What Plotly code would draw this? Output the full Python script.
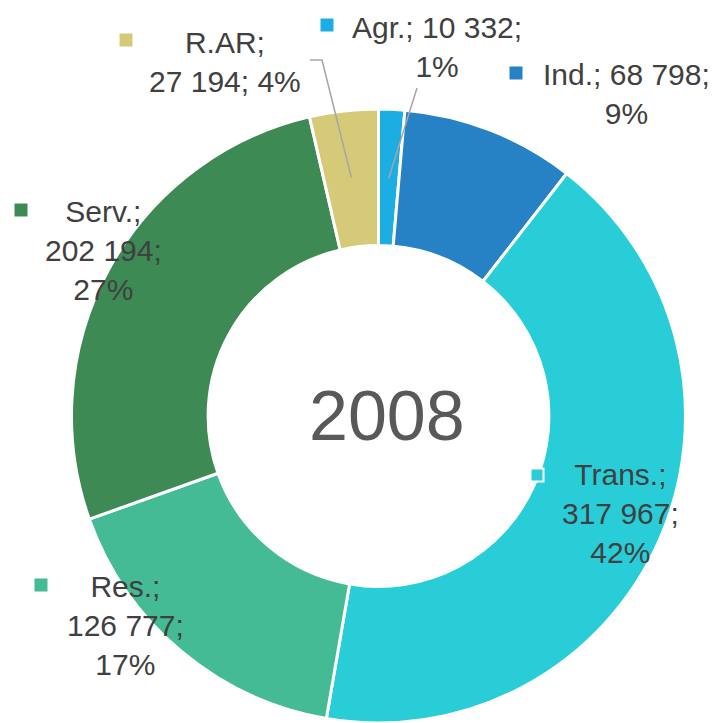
import math
import plotly.graph_objects as go

# ---- data ----
categories = ["Agr.", "Ind.", "Trans.", "Res.", "Serv.", "R.AR"]
values = [10332, 68798, 317967, 126777, 202194, 27194]
percents = ["1%", "9%", "42%", "17%", "27%", "4%"]
colors = ["#1CADE2", "#2782C5", "#29CDD8", "#44BA95", "#3E8A54", "#D5CA77"]
center_label = "2008"

W, H = 717, 723
OFF = 8.0  # page body margin offset compensation
CX, CY, R = 378.5, 416.0, 307.0


def px(x):
    return (x - OFF) / W


def py(y):
    return 1 - (y - OFF) / H


def fmt(v):
    return f"{v:,}".replace(",", " ")


fig = go.Figure()
fig.add_trace(go.Pie(
    labels=categories,
    values=values,
    marker=dict(colors=colors, line=dict(color="white", width=3)),
    hole=0.555,
    sort=False,
    direction="clockwise",
    rotation=0,
    textinfo="none",
    hoverinfo="label+value+percent",
    domain=dict(x=[px(CX - R), px(CX + R)], y=[py(CY + R), py(CY - R)]),
    showlegend=False,
))

TXT = "#404040"
FONT = "Liberation Sans"
FS = 30

label_specs = {
    "R.AR": dict(lines=[f"{categories[5]};", f"{fmt(values[5])}; {percents[5]}"], cx=225, y0=43, sq=(126, 40)),
    "Agr.": dict(lines=[f"{categories[0]}; {fmt(values[0])};", percents[0]], cx=437, y0=28, sq=(327, 25)),
    "Ind.": dict(lines=[f"{categories[1]}; {fmt(values[1])};", percents[1]], cx=626, y0=75, sq=(516, 73)),
    "Serv.": dict(lines=[f"{categories[4]};", f"{fmt(values[4])};", percents[4]], cx=103, y0=212, sq=(21, 210)),
    "Trans.": dict(lines=[f"{categories[2]};", f"{fmt(values[2])};", percents[2]], cx=620, y0=475, sq=(537, 475)),
    "Res.": dict(lines=[f"{categories[3]};", f"{fmt(values[3])};", percents[3]], cx=125, y0=587, sq=(41, 585)),
}
LH = 38.5
annotations = []
shapes = []
for name, spec in label_specs.items():
    n = len(spec["lines"])
    ymid = spec["y0"] + LH * (n - 1) / 2
    annotations.append(dict(
        x=px(spec["cx"]), y=py(ymid), xref="paper", yref="paper",
        text="<br>".join(spec["lines"]), showarrow=False,
        font=dict(family=FONT, size=FS, color=TXT), align="center",
        xanchor="center", yanchor="middle",
    ))
    i = categories.index(name)
    sx, sy = spec["sq"]
    s = 6.5
    shapes.append(dict(
        type="rect", xref="paper", yref="paper",
        x0=px(sx - s), x1=px(sx + s), y0=py(sy + s), y1=py(sy - s),
        fillcolor=colors[i],
        line=dict(color="white", width=2 if name == "Trans." else 0),
    ))

total = sum(values)
cum = [sum(values[:k]) for k in range(len(values))]


def slice_point(k, r):
    frac = (cum[k] + values[k] / 2) / total
    a = 2 * math.pi * frac
    return CX + r * math.sin(a), CY - r * math.cos(a)


LINE = dict(color="#A6A6A6", width=1.5)
x1, y1 = slice_point(5, 240)
shapes.append(dict(type="path", xref="paper", yref="paper",
                   path=f"M {px(310)},{py(60)} L {px(322)},{py(60)} L {px(x1)},{py(y1)}",
                   line=LINE))
x1, y1 = slice_point(0, 238)
shapes.append(dict(type="line", xref="paper", yref="paper",
                   x0=px(417), y0=py(88), x1=px(x1), y1=py(y1), line=LINE))

annotations.append(dict(
    x=px(387), y=py(416), xref="paper", yref="paper", text=center_label,
    showarrow=False, font=dict(family=FONT, size=70, color="#595959"),
    xanchor="center", yanchor="middle",
))

fig.update_layout(
    width=W, height=H,
    margin=dict(l=0, r=0, t=0, b=0),
    paper_bgcolor="white", plot_bgcolor="white",
    annotations=annotations, shapes=shapes,
)
fig.write_html("out.html")
